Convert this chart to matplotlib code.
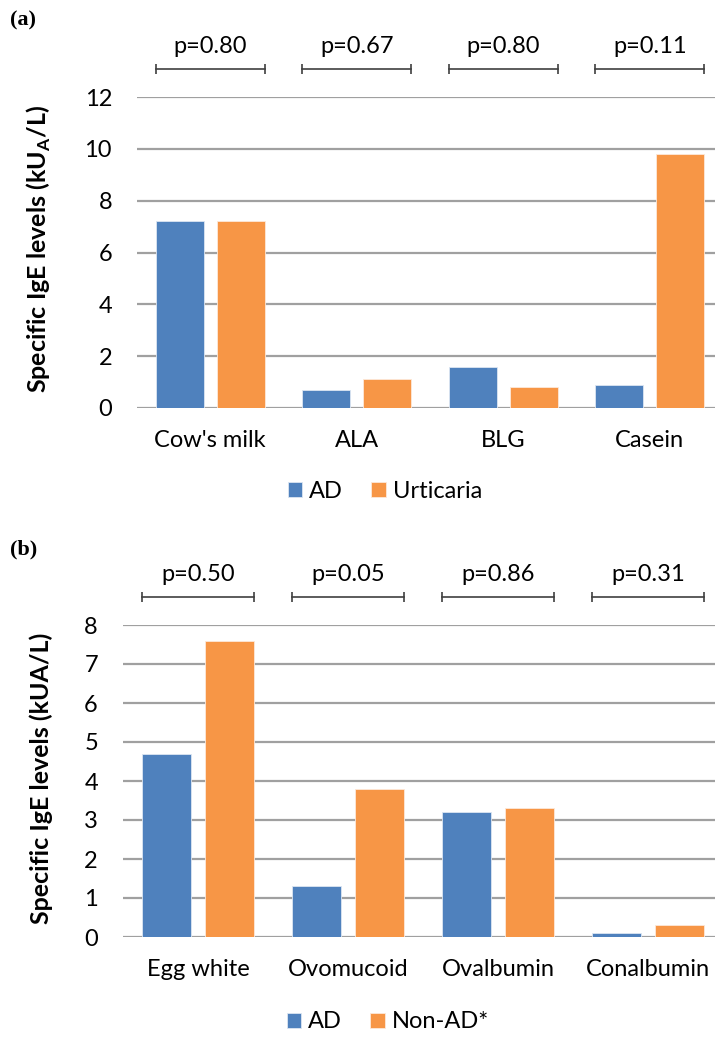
import matplotlib
matplotlib.use("Agg")
import matplotlib.pyplot as plt
import numpy as np

plt.rcParams['font.family'] = ['Lato', 'DejaVu Sans']
plt.rcParams['mathtext.fontset'] = 'custom'
plt.rcParams['mathtext.rm'] = 'Lato:bold'

# panel (a): cow's milk
milk_cats = ["Cow's milk", "ALA", "BLG", "Casein"]
milk_ad = [7.2, 0.7, 1.6, 0.9]
milk_urt = [7.2, 1.1, 0.8, 9.8]
milk_p = ["p=0.80", "p=0.67", "p=0.80", "p=0.11"]

# panel (b): egg
egg_cats = ["Egg white", "Ovomucoid", "Ovalbumin", "Conalbumin"]
egg_ad = [4.7, 1.3, 3.2, 0.1]
egg_non = [7.6, 3.8, 3.3, 0.3]
egg_p = ["p=0.50", "p=0.05", "p=0.86", "p=0.31"]

BLUE = '#4F81BD'
ORANGE = '#F79646'
GRID = '#A0A0A0'
FS = 17

fig = plt.figure(figsize=(7.15, 10.38), dpi=100)


def draw_panel(ax, cats, s1, s2, pvals, ymax, xmax, ylabel, lab1, lab2,
               br_y, txt_y, leg_y, lab_x):
    x = np.arange(len(cats))
    w = 0.328
    off = 0.208
    ax.bar(x - off, s1, w, color=BLUE, edgecolor='#DCE6F2', linewidth=0.6,
           label=lab1, zorder=3)
    ax.bar(x + off, s2, w, color=ORANGE, edgecolor='#FDE9D9', linewidth=0.6,
           label=lab2, zorder=3)
    ax.set_xlim(-0.5, xmax)
    ax.set_ylim(0, ymax)
    ax.set_yticks(np.arange(0, ymax + 1, 2 if ymax > 8 else 1))
    ax.yaxis.grid(True, color=GRID, linewidth=1.6)
    ax.set_axisbelow(True)
    for s in ax.spines.values():
        s.set_visible(False)
    ax.tick_params(axis='both', length=0, labelsize=FS)
    ax.tick_params(axis='y', pad=18)
    ax.tick_params(axis='x', pad=16)
    ax.set_xticks(x)
    ax.set_xticklabels(cats)
    ax.set_ylabel(ylabel, fontsize=18, fontweight='bold')
    ax.yaxis.set_label_coords(lab_x, 0.51)
    # p-value brackets
    for i, p in enumerate(pvals):
        x0 = i - off - w / 2
        x1 = i + off + w / 2
        ax.plot([x0, x1], [br_y, br_y], color='#404040', lw=1.2,
                clip_on=False)
        ax.plot([x0, x1], [br_y, br_y], ls='none', marker='|', ms=7,
                mew=1.2, color='#404040', clip_on=False)
        ax.text(i, txt_y, p, ha='center', va='center', fontsize=FS,
                clip_on=False)
    ax.legend(loc='center', bbox_to_anchor=leg_y, ncol=2, frameon=False,
              fontsize=FS, handlelength=0.6, handleheight=0.6,
              handletextpad=0.3, columnspacing=1.2, borderaxespad=0)


# panel (a)
axa = fig.add_axes([137 / 715, 1 - 408 / 1038, 1 - 137 / 715, 311 / 1038])
draw_panel(axa, milk_cats, milk_ad, milk_urt, milk_p, 12,
           -0.5 + 578 / 146.5,
           r'Specific IgE levels (kU$_\mathrm{A}$/L)', 'AD', 'Urticaria',
           13.08, 13.95, ((385 - 137) / 578, -(491 - 408) / 311),
           (53 - 137) / 578)
fig.text(10 / 715, 1 - 20 / 1038, '(a)', family='Liberation Serif',
         fontweight='bold', fontsize=16, va='center', ha='left')

# panel (b)
axb = fig.add_axes([123 / 715, 1 - 937 / 1038, 1 - 123 / 715, 312 / 1038])
draw_panel(axb, egg_cats, egg_ad, egg_non, egg_p, 8,
           -0.5 + 592 / 150,
           'Specific IgE levels (kUA/L)', 'AD', 'Non-AD*',
           8.72, 9.3, ((388 - 123) / 592, -(1022 - 937) / 312),
           (53 - 123) / 592)
fig.text(10 / 715, 1 - 549 / 1038, '(b)', family='Liberation Serif',
         fontweight='bold', fontsize=16, va='center', ha='left')

fig.savefig('out.png', dpi=100)
